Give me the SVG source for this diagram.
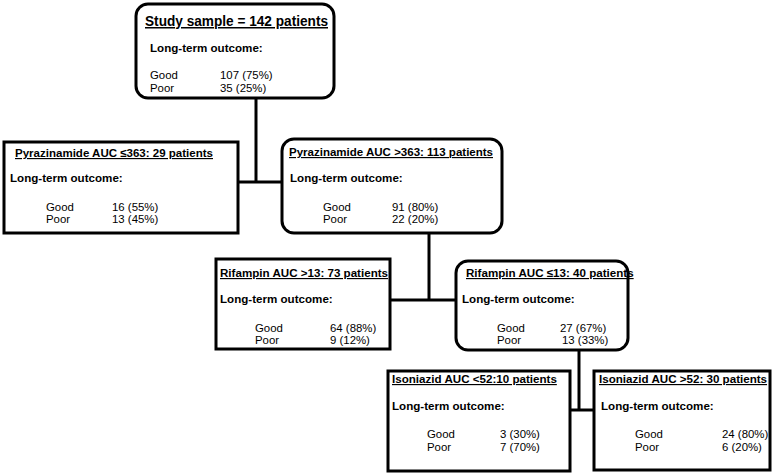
<svg xmlns="http://www.w3.org/2000/svg" width="780" height="474" viewBox="0 0 780 474">
<style>
.box{fill:#fff;stroke:#000;stroke-width:3}
.t{font-family:"Liberation Sans",Arial,sans-serif;font-weight:bold;font-size:11.6px;text-decoration:underline}
.h{font-family:"Liberation Sans",Arial,sans-serif;font-weight:bold;font-size:11.6px}
.v{font-family:"Liberation Sans",Arial,sans-serif;font-size:11.4px}
.c{stroke:#000;stroke-width:3;fill:none}
</style>
<rect width="780" height="474" fill="#fff"/>
<g id="connectors">
<line class="c" x1="256" y1="98" x2="256" y2="182"/>
<line class="c" x1="238" y1="182" x2="282" y2="182"/>
<line class="c" x1="429" y1="233" x2="429" y2="300"/>
<line class="c" x1="390" y1="300" x2="456" y2="300"/>
<line class="c" x1="579" y1="350" x2="579" y2="410"/>
<line class="c" x1="570" y1="410" x2="594" y2="410"/>
</g>
<g id="root">
<rect class="box" x="136" y="4" width="198" height="94" rx="12"/>
<text class="t" x="145" y="26" style="font-size:15px" textLength="183" lengthAdjust="spacingAndGlyphs">Study sample = 142 patients</text>
<text class="h" x="150" y="52">Long-term outcome:</text>
<text class="v" x="150" y="79">Good</text><text class="v" x="220" y="79">107 (75%)</text>
<text class="v" x="150" y="92">Poor</text><text class="v" x="220" y="92">35 (25%)</text>
</g>
<g id="pza-low">
<rect class="box" x="4" y="142" width="234" height="91"/>
<text class="t" x="15" y="157" textLength="198" lengthAdjust="spacingAndGlyphs">Pyrazinamide AUC ≤363: 29 patients</text>
<text class="h" x="10" y="182">Long-term outcome:</text>
<text class="v" x="46" y="211">Good</text><text class="v" x="112" y="211">16 (55%)</text>
<text class="v" x="46" y="223">Poor</text><text class="v" x="112" y="223">13 (45%)</text>
</g>
<g id="pza-high">
<rect class="box" x="282" y="139" width="220" height="94" rx="12"/>
<text class="t" x="289" y="156" textLength="204" lengthAdjust="spacingAndGlyphs">Pyrazinamide AUC &gt;363: 113 patients</text>
<text class="h" x="290" y="182">Long-term outcome:</text>
<text class="v" x="323" y="211">Good</text><text class="v" x="392" y="211">91 (80%)</text>
<text class="v" x="323" y="223">Poor</text><text class="v" x="392" y="223">22 (20%)</text>
</g>
<g id="rif-high">
<rect class="box" x="216" y="259" width="174" height="90"/>
<text class="t" x="220" y="277">Rifampin AUC &gt;13: 73 patients</text>
<text class="h" x="220" y="303">Long-term outcome:</text>
<text class="v" x="255" y="332">Good</text><text class="v" x="330" y="332">64 (88%)</text>
<text class="v" x="255" y="344">Poor</text><text class="v" x="330" y="344">9 (12%)</text>
</g>
<g id="rif-low">
<rect class="box" x="456" y="261" width="172" height="89" rx="12"/>
<text class="t" x="466" y="277">Rifampin AUC ≤13: 40 patients</text>
<text class="h" x="462" y="303">Long-term outcome:</text>
<text class="v" x="497" y="332">Good</text><text class="v" x="560" y="332">27 (67%)</text>
<text class="v" x="497" y="344">Poor</text><text class="v" x="562" y="344">13 (33%)</text>
</g>
<g id="inh-low">
<rect class="box" x="388" y="371" width="182" height="100"/>
<text class="t" x="392" y="383">Isoniazid AUC &lt;52:10 patients</text>
<text class="h" x="392" y="410">Long-term outcome:</text>
<text class="v" x="427" y="438">Good</text><text class="v" x="500" y="438">3 (30%)</text>
<text class="v" x="427" y="451">Poor</text><text class="v" x="500" y="451">7 (70%)</text>
</g>
<g id="inh-high">
<rect class="box" x="594" y="371" width="176" height="99"/>
<text class="t" x="599" y="383">Isoniazid AUC &gt;52: 30 patients</text>
<text class="h" x="601" y="410">Long-term outcome:</text>
<text class="v" x="635" y="438">Good</text><text class="v" x="722" y="438">24 (80%)</text>
<text class="v" x="635" y="451">Poor</text><text class="v" x="722" y="451">6 (20%)</text>
</g>
</svg>
